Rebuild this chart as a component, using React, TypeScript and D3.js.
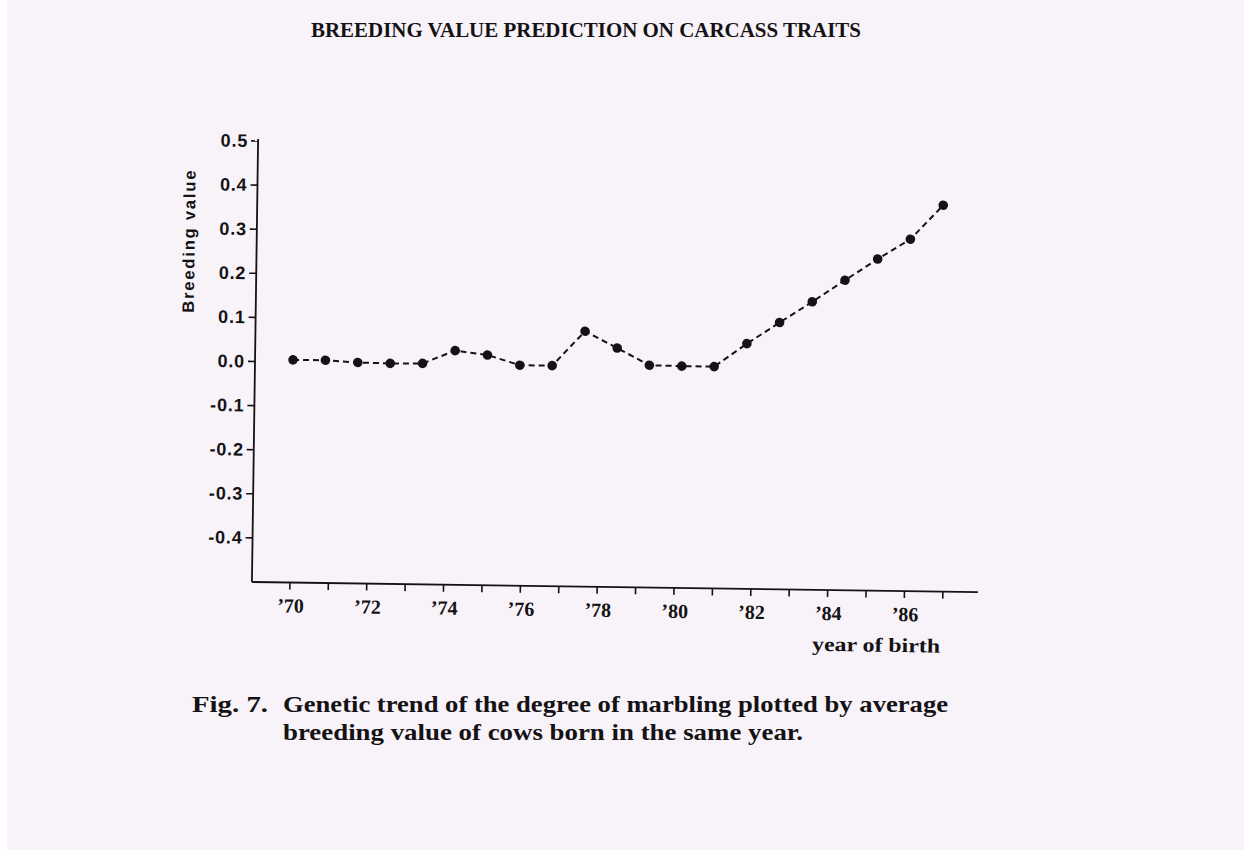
import React from 'react';
import * as d3 from 'd3';

// ---------- data ----------
const titleText = 'BREEDING VALUE PREDICTION ON CARCASS TRAITS';
const yAxisLabel = 'Breeding value';
const xAxisLabel = 'year of birth';
const captionLabel = 'Fig. 7.';
const captionLines = [
  'Genetic trend of the degree of marbling plotted by average',
  'breeding value of cows born in the same year.',
];

const tickYears = [70, 71, 72, 73, 74, 75, 76, 77, 78, 79, 80, 81, 82, 83, 84, 85, 86, 87];
const labeledYears = [70, 72, 74, 76, 78, 80, 82, 84, 86];
const yTicks = [0.5, 0.4, 0.3, 0.2, 0.1, 0.0, -0.1, -0.2, -0.3, -0.4];
const yTickLabels = ['0.5', '0.4', '0.3', '0.2', '0.1', '0.0', '-0.1', '-0.2', '-0.3', '-0.4'];

const pointIndex = [1, 2, 3, 4, 5, 6, 7, 8, 9, 10, 11, 12, 13, 14, 15, 16, 17, 18, 19, 20, 21];
const breedingValues = [
  0.005, 0.005, 0.001, 0.0, 0.001, 0.031, 0.022, 0.0, 0.0, 0.079, 0.042,
  0.004, 0.003, 0.003, 0.056, 0.105, 0.153, 0.203, 0.252, 0.298, 0.376,
];

// ---------- layout ----------
const W = 1244;
const H = 850;
const axisX = 255;
const originY = 362;
const tilt = 0.8; // scan rotation, degrees

const x = d3.scaleLinear().domain([70, 87]).range([293, 946]);
const y = d3.scaleLinear().domain([-0.5, 0.5]).range([582, 141]);
const px = d3.scalePoint<number>().domain(pointIndex).range([293, 941]);

const ink = '#141214';
const serif = "'Liberation Serif', 'DejaVu Serif', serif";
const sans = "'Liberation Sans', Arial, sans-serif";

export default function App() {
  const pts = pointIndex.map((d, i) => ({ i: d, v: breedingValues[i] }));
  const line = d3
    .line<{ i: number; v: number }>()
    .x((d) => px(d.i) as number)
    .y((d) => y(d.v));

  return (
    <svg
      width={W}
      height={H}
      viewBox={`0 0 ${W} ${H}`}
      style={{ position: 'absolute', left: 0, top: 0, display: 'block' }}
    >
      <rect x={0} y={0} width={W} height={H} fill="#ffffff" />
      <rect x={7} y={0} width={W - 7} height={H} fill="#f8f2f9" />

      {/* title */}
      <text
        x={586}
        y={37}
        textAnchor="middle"
        fontFamily={serif}
        fontWeight="bold"
        fontSize={20}
        fill={ink}
        textLength={550}
        lengthAdjust="spacingAndGlyphs"
      >
        {titleText}
      </text>

      {/* chart, slightly tilted like the scan */}
      <g transform={`rotate(${tilt}, ${axisX}, ${originY})`}>
        {/* y axis */}
        <line x1={axisX} x2={axisX} y1={y(0.5) - 2} y2={y(-0.5)} stroke={ink} strokeWidth={1.8} />
        {yTicks.map((t, k) => (
          <g key={k}>
            <line x1={axisX - 7} x2={axisX} y1={y(t)} y2={y(t)} stroke={ink} strokeWidth={1.6} />
            <text
              x={axisX - 10}
              y={y(t) + 6}
              textAnchor="end"
              fontFamily={sans}
              fontWeight="bold"
              fontSize={18}
              letterSpacing={0.8}
              fill={ink}
            >
              {yTickLabels[k]}
            </text>
          </g>
        ))}
        <text
          transform={`translate(193, ${y(0) - 119}) rotate(-90)`}
          textAnchor="middle"
          fontFamily={sans}
          fontWeight="bold"
          fontSize={16.5}
          fill={ink}
          textLength={142}
          lengthAdjust="spacing"
        >
          {yAxisLabel}
        </text>

        {/* x axis */}
        <line x1={axisX} x2={981} y1={y(-0.5)} y2={y(-0.5)} stroke={ink} strokeWidth={1.8} />
        {tickYears.map((t) => (
          <line key={t} x1={x(t)} x2={x(t)} y1={y(-0.5)} y2={y(-0.5) + 7} stroke={ink} strokeWidth={1.6} />
        ))}
        {labeledYears.map((t) => (
          <text
            key={t}
            x={x(t) + 1}
            y={y(-0.5) + 30}
            textAnchor="middle"
            fontFamily={serif}
            fontWeight="bold"
            fontSize={20}
            fill={ink}
          >
            {'\u2019' + t}
          </text>
        ))}
        <text
          x={880}
          y={643}
          textAnchor="middle"
          fontFamily={serif}
          fontWeight="bold"
          fontSize={20}
          fill={ink}
          textLength={128}
          lengthAdjust="spacingAndGlyphs"
        >
          {xAxisLabel}
        </text>

        {/* series */}
        <path d={line(pts) ?? ''} fill="none" stroke={ink} strokeWidth={2} strokeDasharray="6 4" />
        {pts.map((d) => (
          <circle key={d.i} cx={px(d.i) as number} cy={y(d.v)} r={4.8} fill={ink} />
        ))}
      </g>

      {/* caption */}
      <g fontFamily={serif} fontWeight="bold" fontSize={23} fill={ink}>
        <text x={192} y={712} textLength={76} lengthAdjust="spacingAndGlyphs">
          {captionLabel}
        </text>
        <text x={283} y={712} textLength={665} lengthAdjust="spacingAndGlyphs">
          {captionLines[0]}
        </text>
        <text x={283} y={740} textLength={520} lengthAdjust="spacingAndGlyphs">
          {captionLines[1]}
        </text>
      </g>
    </svg>
  );
}
